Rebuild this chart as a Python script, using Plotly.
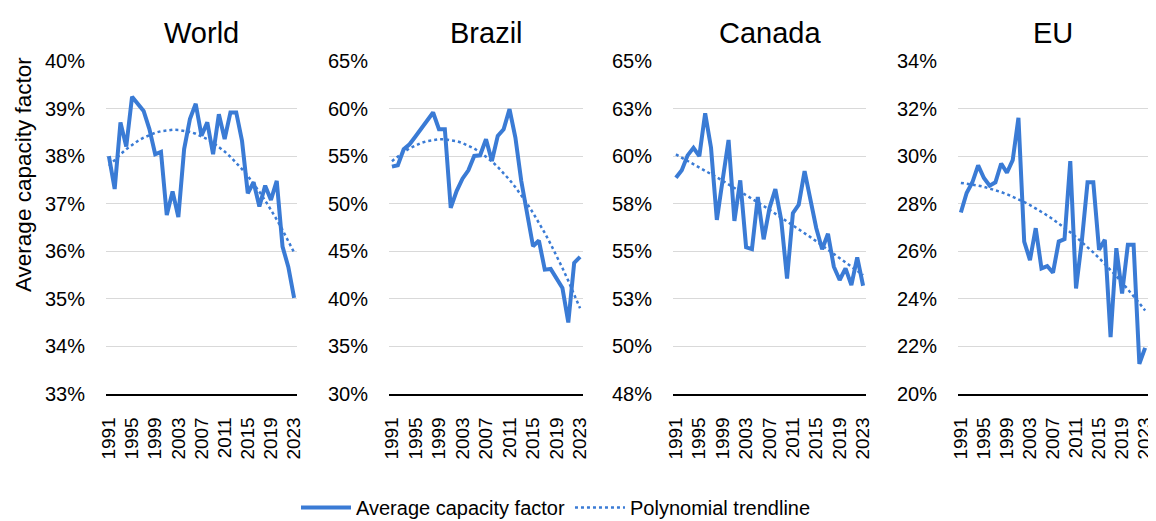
import numpy as np
import plotly.graph_objects as go

years = list(range(1991, 2024))

world = [38.0, 37.31, 38.71, 38.2, 39.25, 39.1, 38.95, 38.57, 38.04, 38.09, 36.76,
         37.26, 36.72, 38.15, 38.78, 39.1, 38.43, 38.71, 38.04, 38.88, 38.36, 38.92,
         38.92, 38.32, 37.22, 37.45, 36.94, 37.38, 37.08, 37.48, 36.1, 35.67, 35.02]
brazil = [53.9, 54.04, 55.72, 56.25, 57.06, 57.9, 58.89, 59.59, 57.83, 57.83, 49.57,
          51.33, 52.63, 53.51, 55.02, 55.09, 56.78, 54.49, 57.13, 57.83, 59.94, 56.95,
          52.39, 49.05, 45.53, 46.13, 43.07, 43.14, 42.2, 41.14, 37.52, 43.78, 44.41]
canada = [58.86, 59.26, 60.04, 60.44, 60.0, 62.25, 60.44, 56.65, 58.77, 60.85, 56.6,
          58.73, 55.21, 55.11, 57.85, 55.63, 57.27, 58.27, 56.65, 53.57, 57.0, 57.45,
          59.21, 57.71, 56.21, 55.11, 55.92, 54.19, 53.49, 54.1, 53.22, 54.68, 53.19]
eu = [27.63, 28.45, 28.9, 29.61, 29.08, 28.76, 28.9, 29.69, 29.3, 29.83, 31.61,
      26.41, 25.63, 26.97, 25.28, 25.38, 25.1, 26.41, 26.51, 29.79, 24.44, 26.41,
      28.9, 28.9, 26.06, 26.48, 22.39, 26.13, 24.23, 26.27, 26.27, 21.27, 21.94]

titles = ["World", "Brazil", "Canada", "EU"]
series = [world, brazil, canada, eu]
y_ticks = [
    [33, 34, 35, 36, 37, 38, 39, 40],
    [30, 35, 40, 45, 50, 55, 60, 65],
    [47.5, 50, 52.5, 55, 57.5, 60, 62.5, 65],
    [20, 22, 24, 26, 28, 30, 32, 34],
]
y_tick_text = [
    ["33%", "34%", "35%", "36%", "37%", "38%", "39%", "40%"],
    ["30%", "35%", "40%", "45%", "50%", "55%", "60%", "65%"],
    ["48%", "50%", "53%", "55%", "58%", "60%", "63%", "65%"],
    ["20%", "22%", "24%", "26%", "28%", "30%", "32%", "34%"],
]
x_tick_years = [1991, 1995, 1999, 2003, 2007, 2011, 2015, 2019, 2023]

# page body adds an 8px offset; figure coordinates are screen coordinates minus 8
OFF = 8
W, H = 1156 - OFF, 527 - OFF
x_px = [(106, 297), (389, 583), (673, 866), (958, 1148)]
y_top, y_bot = 61, 394
BLUE = "#3A7BD5"
FONT = "Liberation Sans, Arial, sans-serif"


def fx(px):
    return (px - OFF) / W


def fy(py):
    return 1 - (py - OFF) / H


fig = go.Figure()
idx = np.arange(1, len(years) + 1)
for i, (name, vals) in enumerate(zip(titles, series)):
    ax = "" if i == 0 else str(i + 1)
    coef = np.polyfit(idx, np.array(vals), 2)
    trend = np.polyval(coef, idx)
    fig.add_trace(go.Scatter(
        x=years, y=vals, mode="lines", name="Average capacity factor",
        line=dict(color=BLUE, width=4), showlegend=(i == 0),
        xaxis="x" + ax, yaxis="y" + ax))
    fig.add_trace(go.Scatter(
        x=years, y=trend, mode="lines", name="Polynomial trendline",
        line=dict(color=BLUE, width=2.5, dash="dot"), showlegend=(i == 0),
        xaxis="x" + ax, yaxis="y" + ax))
    x0, x1 = x_px[i]
    fig.layout["xaxis" + ax] = dict(
        domain=[fx(x0), fx(x1)], anchor="y" + ax,
        range=[1990.5, 2023.5], tickmode="array", tickvals=x_tick_years,
        ticktext=[str(y) for y in x_tick_years], tickangle=-90,
        showgrid=False, showline=True, linecolor="#000000", linewidth=1.5,
        ticks="", zeroline=False, ticklabelstandoff=14, automargin=False,
        ticklabeloverflow="allow",
        tickfont=dict(size=19, color="#000000", family=FONT))
    fig.layout["yaxis" + ax] = dict(
        domain=[fy(y_bot), fy(y_top)], anchor="x" + ax,
        range=[y_ticks[i][0], y_ticks[i][-1]], tickmode="array",
        tickvals=y_ticks[i], ticktext=y_tick_text[i],
        showgrid=True, gridcolor="#d9d9d9", gridwidth=1, zeroline=False,
        showline=False, ticks="", ticklabelstandoff=20, automargin=False,
        ticklabeloverflow="allow",
        tickfont=dict(size=20, color="#000000", family=FONT))
    fig.add_annotation(
        text=name, xref="paper", yref="paper", x=fx((x0 + x1) / 2), y=fy(33),
        showarrow=False, xanchor="center", yanchor="middle",
        font=dict(size=29, color="#000000", family=FONT))

fig.add_annotation(
    text="Average capacity factor", xref="paper", yref="paper",
    x=fx(23), y=fy(175), textangle=-90, showarrow=False,
    xanchor="center", yanchor="middle",
    font=dict(size=22.5, color="#000000", family=FONT))

fig.update_layout(
    width=W, height=H, margin=dict(l=0, r=0, t=0, b=0),
    paper_bgcolor="white", plot_bgcolor="white",
    font=dict(family=FONT, color="#000000"),
    legend=dict(orientation="h", x=fx(556), xanchor="center", y=0,
                yanchor="bottom", font=dict(size=20, family=FONT),
                itemwidth=50, tracegroupgap=0),
)

fig.write_html("out.html")
